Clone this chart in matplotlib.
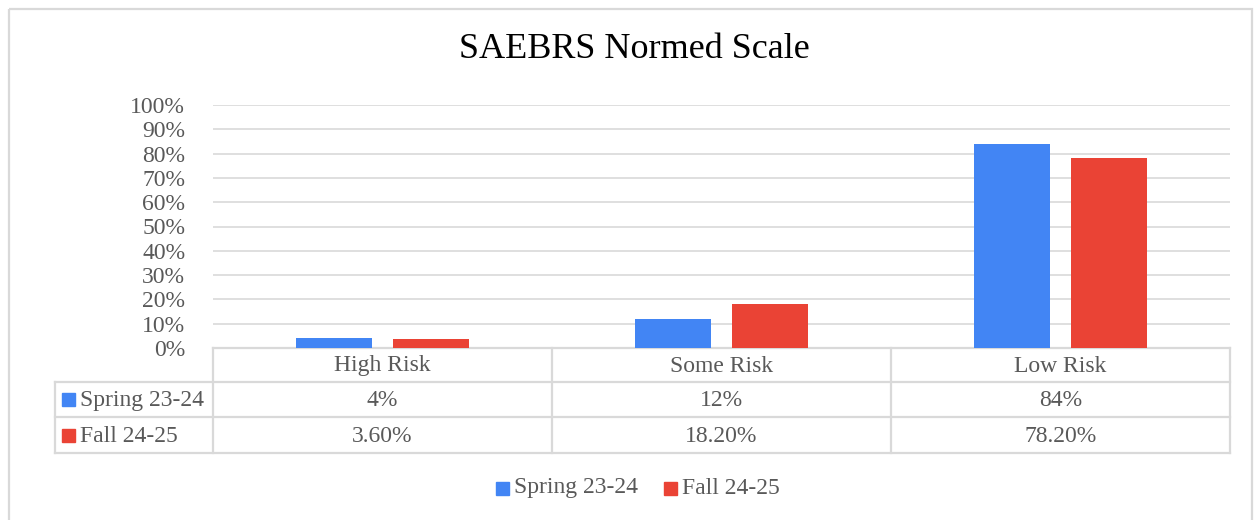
import numpy as np
import matplotlib.pyplot as plt
from matplotlib.patches import Rectangle

# data
categories = ['High Risk', 'Some Risk', 'Low Risk']
series_names = ['Spring 23-24', 'Fall 24-25']
spring = [4, 12, 84]
fall = [3.6, 18.2, 78.2]
spring_labels = [f'{v:.0f}%' for v in spring]
fall_labels = [f'{v:.2f}%' for v in fall]
yticks = list(range(0, 101, 10))

blue = '#4285f4'
red = '#ea4335'
grid_c = '#d9d9d9'
text_c = '#595959'
W, H = 1259, 520

plt.rcParams['font.family'] = ['Liberation Serif', 'DejaVu Serif']

fig = plt.figure(figsize=(W / 100, H / 100), dpi=100)

# background axes in pixel coordinates (frame, table, legend)
bg = fig.add_axes([0, 0, 1, 1])
bg.set_xlim(0, W)
bg.set_ylim(H, 0)
bg.axis('off')

# outer chart border
bg.add_patch(Rectangle((9, 9), 1243, 530, fill=False, ec=grid_c, lw=1.6))

# title, centred on the chart frame
bg.text(634, 50, 'SAEBRS Normed Scale', ha='center', va='center',
        fontsize=26, color='black')

# plot area
x0, x1 = 213, 1230
ytop, ybot = 105, 348
ax = fig.add_axes([x0 / W, (H - ybot) / H, (x1 - x0) / W, (ybot - ytop) / H])
ax.set_zorder(2)
ax.patch.set_alpha(0)

x = np.arange(len(categories))
off = 0.143
bw = 0.225
ax.bar(x - off, spring, bw, color=blue, zorder=3)
ax.bar(x + off, fall, bw, color=red, zorder=3)

ax.set_xlim(-0.5, len(categories) - 0.5)
ax.set_ylim(0, 100)
ax.set_yticks(yticks)
ax.set_yticklabels([f'{t}%' for t in yticks], fontsize=17, color=text_c)
ax.tick_params(axis='y', length=0, pad=20)
ax.set_xticks([])
for t in yticks[1:]:
    ax.axhline(t, color=grid_c, lw=1.2, zorder=1)
for s in ax.spines.values():
    s.set_visible(False)

# data table under the plot
col_edges = [x0 + i * (x1 - x0) / len(categories) for i in range(len(categories) + 1)]
rows = [348, 382, 417, 453]
lx = 55
lw_t = 1.6
bg.plot([x0, x1], [rows[0], rows[0]], color=grid_c, lw=lw_t)
bg.plot([lx, x1], [rows[1], rows[1]], color=grid_c, lw=lw_t)
bg.plot([lx, x1], [rows[2], rows[2]], color=grid_c, lw=lw_t)
bg.plot([lx, x1], [rows[3], rows[3]], color=grid_c, lw=lw_t)
bg.plot([lx, lx], [rows[1], rows[3]], color=grid_c, lw=lw_t)
for i, cx in enumerate(col_edges):
    bg.plot([cx, cx], [rows[0], rows[3]], color=grid_c, lw=lw_t)

for i, cat in enumerate(categories):
    cx = (col_edges[i] + col_edges[i + 1]) / 2
    bg.text(cx, (rows[0] + rows[1]) / 2 + 1, cat, ha='center', va='center',
            fontsize=17, color=text_c)
    bg.text(cx, (rows[1] + rows[2]) / 2 + 1, spring_labels[i], ha='center', va='center',
            fontsize=17, color=text_c)
    bg.text(cx, (rows[2] + rows[3]) / 2 + 1, fall_labels[i], ha='center', va='center',
            fontsize=17, color=text_c)

for j, (name, c) in enumerate(zip(series_names, [blue, red])):
    cy = (rows[j + 1] + rows[j + 2]) / 2
    bg.add_patch(Rectangle((62, cy - 6.5), 13, 13, color=c))
    bg.text(80, cy + 1, name, ha='left', va='center', fontsize=17, color=text_c)

# legend at bottom
leg_x = [496, 664]
for name, c, lxp in zip(series_names, [blue, red], leg_x):
    bg.add_patch(Rectangle((lxp, 488 - 6.5), 13, 13, color=c))
    bg.text(lxp + 18, 488, name, ha='left', va='center', fontsize=17, color=text_c)

fig.savefig('out.png', dpi=100)
